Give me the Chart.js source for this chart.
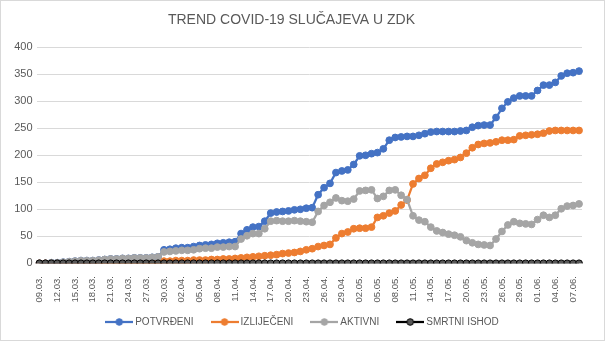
<!DOCTYPE html>
<html><head><meta charset="utf-8">
<script src="https://cdn.jsdelivr.net/npm/chart.js@4.4.0/dist/chart.umd.min.js"></script>
<style>
html,body{margin:0;padding:0;background:#fff;}
#wrap{position:absolute;left:0;top:0;width:603px;height:339px;border:1px solid #d9d9d9;}
canvas{display:block;}
</style></head><body>
<div id="wrap"><canvas id="c" width="603" height="339"></canvas></div>
<script>
const dates = [
 "09.03.","10.03.","11.03.","12.03.","13.03.","14.03.","15.03.","16.03.","17.03.","18.03.","19.03.","20.03.","21.03.","22.03.","23.03.","24.03.","25.03.","26.03.","27.03.","28.03.","29.03.","30.03.","31.03.",
 "01.04.","02.04.","03.04.","04.04.","05.04.","06.04.","07.04.","08.04.","09.04.","10.04.","11.04.","12.04.","13.04.","14.04.","15.04.","16.04.","17.04.","18.04.","19.04.","20.04.","21.04.","22.04.","23.04.","24.04.","25.04.","26.04.","27.04.","28.04.","29.04.","30.04.",
 "01.05.","02.05.","03.05.","04.05.","05.05.","06.05.","07.05.","08.05.","09.05.","10.05.","11.05.","12.05.","13.05.","14.05.","15.05.","16.05.","17.05.","18.05.","19.05.","20.05.","21.05.","22.05.","23.05.","24.05.","25.05.","26.05.","27.05.","28.05.","29.05.","30.05.","31.05.",
 "01.06.","02.06.","03.06.","04.06.","05.06.","06.06.","07.06.","08.06."
];
const potvrdeni = [
 0,0,1,1,2,3,4,5,5,5,6,7,8,8,9,9,10,10,10,11,12,
 25,26,28,29,29,31,33,34,35,37,38,39,40,
 55,62,67,68,78,93,95,96,97,99,100,102,103,
 127,140,148,168,171,173,183,199,200,203,205,212,228,233,234,235,235,
 237,240,243,244,244,244,244,245,246,252,255,256,256,
 270,287,299,306,310,310,310,320,330,330,335,347,352,353,356
];
const izlijeceni = [
 0,0,0,0,0,0,0,0,0,0,0,0,0,0,0,0,0,0,0,0,0,
 4,4,5,5,5,6,6,6,7,7,8,8,9,
 10,11,12,13,14,15,16,18,19,20,22,25,27,
 31,33,35,47,55,58,64,65,65,67,85,88,93,97,108,117,147,
 157,163,176,184,187,190,192,196,204,214,220,222,223,
 225,228,228,229,236,237,238,239,241,245,246,246,246,246,246
];
const aktivni = [
 0,0,1,1,2,3,4,5,5,5,6,7,8,8,9,9,10,10,10,11,12,
 21,22,23,24,24,25,27,28,28,30,30,31,31,
 45,51,55,55,64,78,79,78,78,79,78,77,76,
 96,107,113,121,116,115,119,134,135,136,120,124,135,136,126,118,88,
 80,77,67,60,57,54,52,49,42,38,35,34,33,
 45,59,71,77,74,73,72,81,89,85,89,101,106,107,110
];
const smrtniIshod = [
 0,0,0,0,0,0,0,0,0,0,0,0,0,0,0,0,0,0,0,0,0,
 0,0,0,0,0,0,0,0,0,0,0,0,0,
 0,0,0,0,0,0,0,0,0,0,0,0,0,
 0,0,0,0,0,0,0,0,0,0,0,0,0,0,0,0,0,
 0,0,0,0,0,0,0,0,0,0,0,0,0,
 0,0,0,0,0,0,0,0,0,0,0,0,0,0,0
];
const seriesNames = ["POTVRĐENI","IZLIJEČENI","AKTIVNI","SMRTNI ISHOD"];
const yTicks = [0,50,100,150,200,250,300,350,400];

const FONT = "'Liberation Sans', Arial, sans-serif";
const TXT = '#595959';
const styles = [
  {line:'#4472C4', fill:'#4472C4', border:'#4472C4'},
  {line:'#ED7D31', fill:'#ED7D31', border:'#ED7D31'},
  {line:'#A5A5A5', fill:'#A5A5A5', border:'#A5A5A5'},
  {line:'#000000', fill:'#595959', border:'#000000'}
];
function icon(s){
  const c = document.createElement('canvas');
  c.width = 28; c.height = 10;
  const g = c.getContext('2d');
  g.strokeStyle = s.line; g.lineWidth = 2.25;
  g.beginPath(); g.moveTo(0,5); g.lineTo(28,5); g.stroke();
  g.fillStyle = s.fill; g.strokeStyle = s.border; g.lineWidth = 1;
  g.beginPath(); g.arc(14,5,3.3,0,Math.PI*2); g.fill(); g.stroke();
  return c;
}
const icons = styles.map(icon);
const seriesData = [potvrdeni, izlijeceni, aktivni, smrtniIshod];

const datasets = seriesData.map((d,i)=>({
  label: seriesNames[i],
  data: d,
  borderColor: styles[i].line,
  backgroundColor: styles[i].fill,
  pointBackgroundColor: styles[i].fill,
  pointBorderColor: styles[i].border,
  pointRadius: 3.4,
  pointBorderWidth: 1,
  borderWidth: 2.25,
  tension: 0,
  fill: false,
  order: 4 - i
}));

const layoutFix = {
  id: 'layoutFix',
  afterLayout(chart) {
    // let rotated x labels overflow their box slightly instead of being clipped
    chart.scales.x.bottom += 8;
    // centre the legend on the whole canvas rather than on the padded box
    chart.legend.left += 12;
    chart.legend.right += 12;
  }
};

new Chart(document.getElementById('c'), {
  type: 'line',
  data: { labels: dates, datasets },
  plugins: [layoutFix],
  options: {
    responsive: false,
    animation: false,
    devicePixelRatio: 1,
    events: [],
    layout: { padding: { left: 0, right: 22, top: 0, bottom: 3 } },
    plugins: {
      tooltip: { enabled: false },
      title: {
        display: true,
        text: 'TREND COVID-19 SLUČAJEVA U ZDK',
        color: TXT,
        font: { family: FONT, size: 14, weight: 'normal' },
        padding: { top: 10.5, bottom: 19 }
      },
      legend: {
        position: 'bottom',
        labels: {
          color: TXT,
          font: { family: FONT, size: 10 },
          usePointStyle: true,
          pointStyleWidth: 22,
          padding: 20,
          generateLabels(chart) {
            const items = Chart.defaults.plugins.legend.labels.generateLabels(chart);
            items.sort((a, b) => a.datasetIndex - b.datasetIndex);
            items.forEach(it => { it.pointStyle = icons[it.datasetIndex]; });
            return items;
          }
        }
      }
    },
    scales: {
      x: {
        offset: true,
        grid: { display: false, drawTicks: false },
        border: { display: true, color: '#d9d9d9', width: 1 },
        ticks: {
          autoSkip: false,
          minRotation: 90,
          maxRotation: 90,
          padding: 12.7,
          color: TXT,
          font: { family: FONT, size: 9.5 },
          callback: function(v, idx) { return idx % 3 === 0 ? this.getLabelForValue(v) : ''; }
        },
        afterFit(s) { s.height = 33.7; }
      },
      y: {
        min: 0, max: 400,
        afterBuildTicks(s) { s.ticks = yTicks.map(v => ({ value: v })); },
        grid: { color: '#d9d9d9', lineWidth: 1, drawTicks: false },
        border: { display: false },
        ticks: { padding: 4, color: TXT, font: { family: FONT, size: 11 } },
        afterFit(s) { s.width = 35.5; }
      }
    }
  }
});
</script>
</body></html>
